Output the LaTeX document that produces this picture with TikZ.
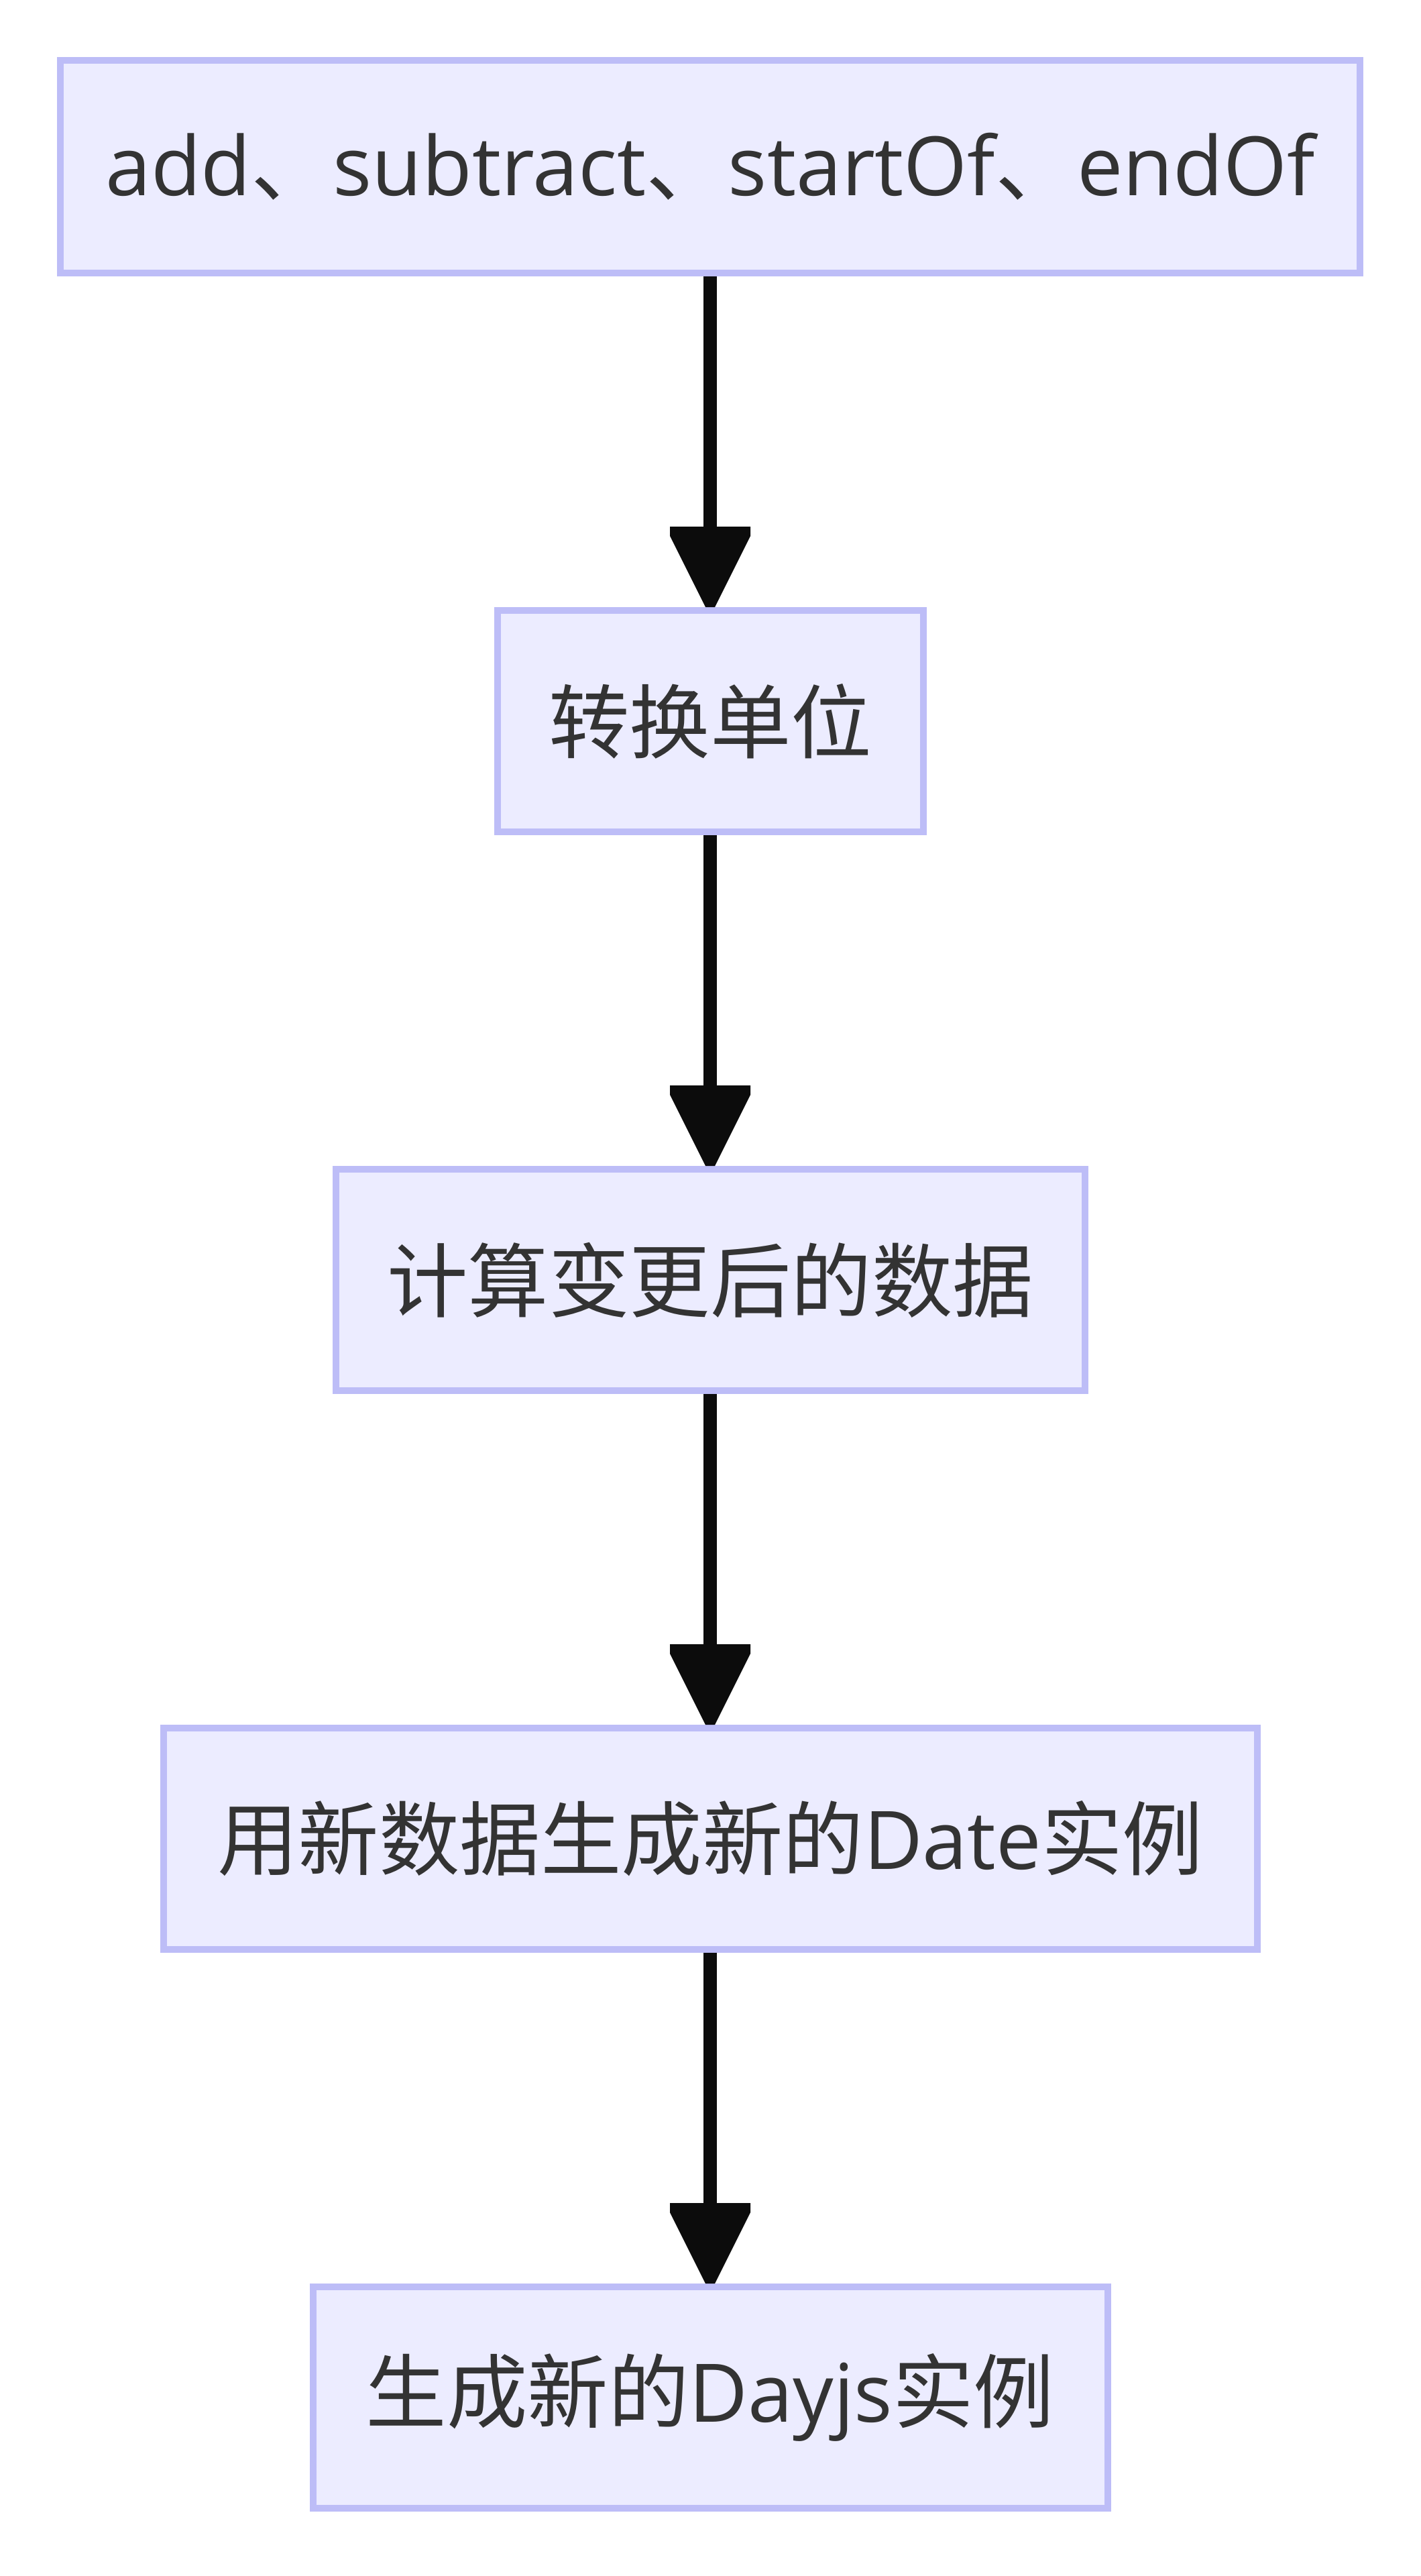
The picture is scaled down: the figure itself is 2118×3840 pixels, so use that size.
\documentclass[tikz,border=0pt]{standalone}
\usepackage{fontspec}
\setmainfont{Open Sans}
\newfontfamily\cjk{Noto Sans CJK SC}
\usetikzlibrary{calc}
\definecolor{boxfill}{RGB}{236,236,255}
\definecolor{boxline}{RGB}{189,189,247}
\definecolor{txt}{RGB}{51,51,51}
\definecolor{arr}{RGB}{12,12,12}
\tikzset{
  flowbox/.style={draw=boxline, fill=boxfill, line width=10pt, rectangle,
    inner sep=0pt, minimum height=330pt, text=txt,
    font=\fontsize{120.5}{142}\selectfont},
  shaft/.style={draw=arr, line width=20pt},
  headfill/.style={fill=arr}
}
\newcommand{\flowarrow}[2]{%
  \draw[shaft] (#1.south) -- ($(#2.north)+(0,-110)$);
  \fill[headfill] ($(#2.north)+(-60,-120)$) -- ($(#2.north)+(60,-120)$) --
    ($(#2.north)+(60,-106)$) -- ($(#2.north)+(7,0)$) -- ($(#2.north)+(-7,0)$) --
    ($(#2.north)+(-60,-106)$) -- cycle;
}
\begin{document}
\begin{tikzpicture}[x=1pt,y=-1pt]
\useasboundingbox (0,0) rectangle (2118,3840);
\node[flowbox, minimum width=1938pt, minimum height=317pt] (b1) at (1059,248.5)
  {\fontsize{122}{142}\selectfont add{\cjk 、}subtract{\cjk 、}startOf{\cjk 、}endOf};
\node[flowbox, minimum width=635pt] (b2) at (1059,1075) {\cjk 转换单位};
\node[flowbox, minimum width=1117pt] (b3) at (1059,1908) {\cjk 计算变更后的数据};
\node[flowbox, minimum width=1631pt] (b4) at (1059,2741) {{\cjk 用新数据生成新的}Date{\cjk 实例}};
\node[flowbox, minimum width=1185pt] (b5) at (1059,3574) {{\cjk 生成新的}Dayjs{\cjk 实例}};
\flowarrow{b1}{b2}
\flowarrow{b2}{b3}
\flowarrow{b3}{b4}
\flowarrow{b4}{b5}
\end{tikzpicture}
\end{document}
